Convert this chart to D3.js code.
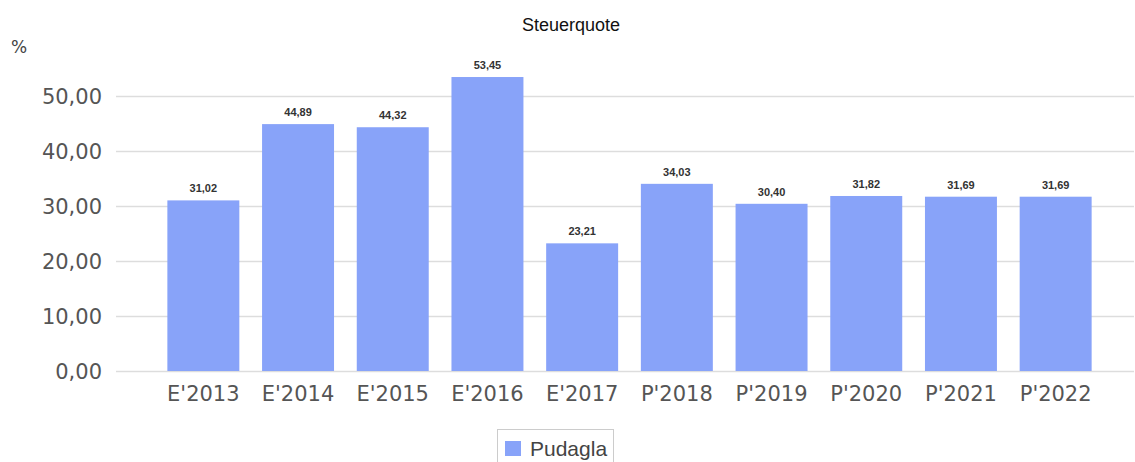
<!DOCTYPE html>
<html lang="de">
<head>
  <meta charset="UTF-8">
  <title>Steuerquote</title>
  <script src="https://d3js.org/d3.v7.min.js"></script>
  <style type="text/css">
    body { margin: 0; background: #fff; }
    .tick text { font-family: "DejaVu Sans", sans-serif; fill: #555; }
  </style>
</head>
<body>
  <div id="chart">
    <svg width="1135" height="462"></svg>
  </div>
  <script type="text/javascript">
    // data
    const categories = ["E'2013", "E'2014", "E'2015", "E'2016", "E'2017", "P'2018", "P'2019", "P'2020", "P'2021", "P'2022"];
    const values = [31.02, 44.89, 44.32, 53.45, 23.21, 34.03, 30.40, 31.82, 31.69, 31.69];
    const yTicks = [0, 10, 20, 30, 40, 50];
    const seriesName = "Pudagla";

    const barColor = "#88a3f9";
    const fmt = v => d3.format(".2f")(v).replace(".", ",");

    let svg = d3.select("div#chart svg");

    let x = d3.scaleBand()
      .domain(categories)
      .range([156, 1103])
      .paddingInner(0.24)
      .paddingOuter(0.12);
    let y = d3.scaleLinear()
      .domain([0, 50])
      .range([371, 96]);

    // gridlines + y labels
    let yAxis = svg.append("g")
      .attr("transform", "translate(116,0)")
      .call(d3.axisLeft(y).tickValues(yTicks).tickSize(-1018).tickFormat(fmt).tickPadding(14));
    yAxis.select(".domain").remove();
    yAxis.selectAll(".tick line").attr("stroke", "#ddd").attr("stroke-width", 1.5);
    yAxis.selectAll(".tick text").style("font-size", "21px").attr("dy", "0.36em");

    // bars
    svg.append("g")
      .selectAll("rect")
      .data(values)
      .enter()
      .append("rect")
      .attr("x", (d, i) => x(categories[i]))
      .attr("width", x.bandwidth())
      .attr("y", d => y(d))
      .attr("height", d => y(0) - y(d))
      .attr("fill", barColor);

    // value labels
    svg.append("g")
      .selectAll("text")
      .data(values)
      .enter()
      .append("text")
      .attr("x", (d, i) => x(categories[i]) + x.bandwidth() / 2)
      .attr("y", d => y(d) - 8)
      .attr("text-anchor", "middle")
      .style("font-family", "Liberation Sans, Arial, sans-serif")
      .style("font-size", "11px")
      .style("font-weight", "bold")
      .style("fill", "#333")
      .text(d => fmt(d));

    // x labels
    let xAxis = svg.append("g")
      .attr("transform", "translate(0,371)")
      .call(d3.axisBottom(x).tickSize(0).tickPadding(15));
    xAxis.select(".domain").remove();
    xAxis.selectAll(".tick text").style("font-size", "21px");

    // title
    svg.append("text")
      .attr("x", 571)
      .attr("y", 31)
      .attr("text-anchor", "middle")
      .style("font-family", "Liberation Sans, Arial, sans-serif")
      .style("font-size", "18px")
      .style("fill", "#111")
      .text("Steuerquote");

    // unit
    svg.append("text")
      .attr("x", 11)
      .attr("y", 53)
      .style("font-family", "DejaVu Sans, sans-serif")
      .style("font-size", "17px")
      .style("fill", "#444")
      .text("%");

    // legend
    let legend = svg.append("g").attr("transform", "translate(497,429)");
    legend.append("rect")
      .attr("x", 0.5).attr("y", 0.5)
      .attr("width", 116).attr("height", 40)
      .attr("fill", "#fff")
      .attr("stroke", "#ccc");
    legend.append("rect")
      .attr("x", 8).attr("y", 12)
      .attr("width", 16).attr("height", 15)
      .attr("fill", barColor);
    legend.append("text")
      .attr("x", 33).attr("y", 27)
      .style("font-family", "Liberation Sans, Arial, sans-serif")
      .style("font-size", "21px")
      .style("fill", "#444")
      .text(seriesName);
  </script>
</body>
</html>
